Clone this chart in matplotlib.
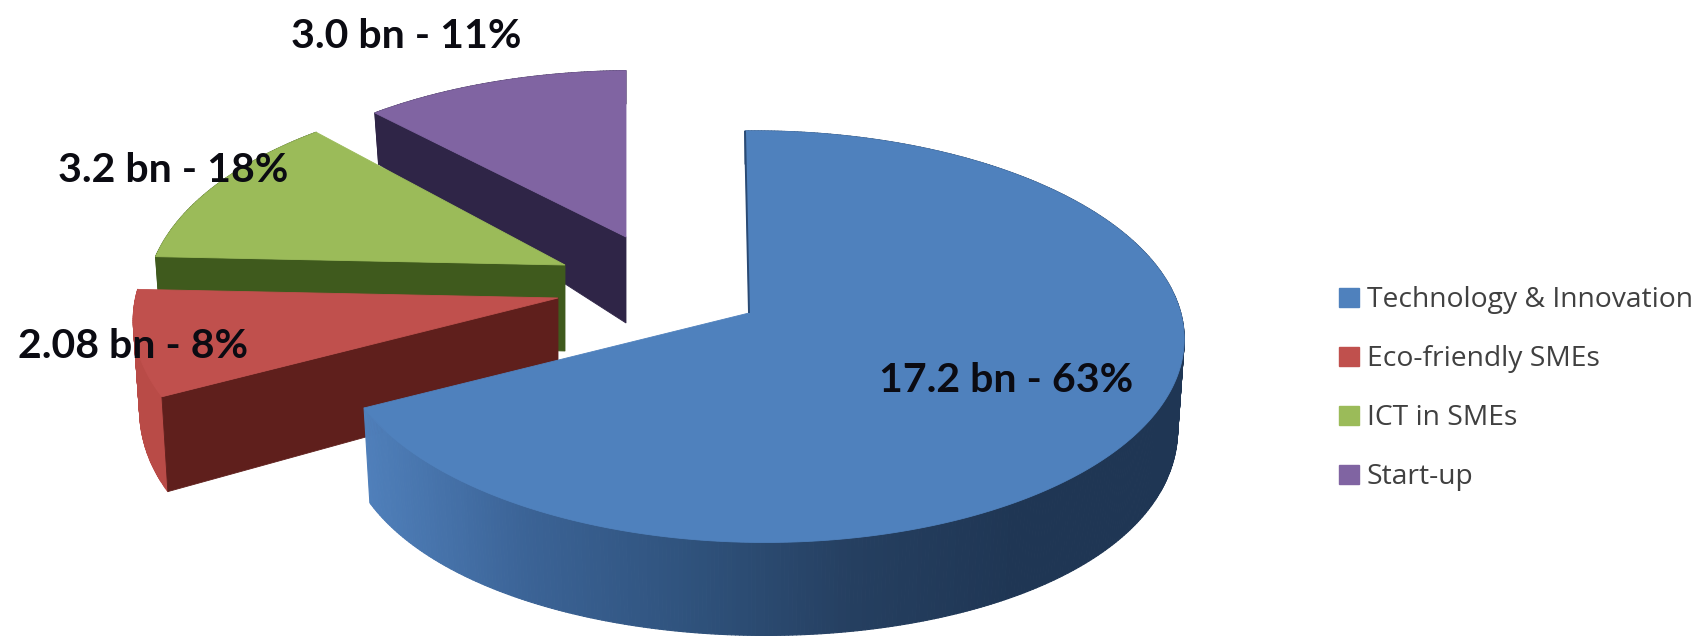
import numpy as np
import matplotlib
matplotlib.use('Agg')
import matplotlib.pyplot as plt
from matplotlib.collections import PolyCollection
from matplotlib.colors import LinearSegmentedColormap
from matplotlib.patches import Patch, Polygon

categories = ['Technology & Innovation', 'Eco-friendly SMEs', 'ICT in SMEs', 'Start-up']
amounts = [17.2, 2.08, 3.2, 3.0]
shares = [63, 8, 18, 11]

top_colors = ['#4f81bd', '#c0504d', '#9bbb59', '#8064a2']
cut_colors = ['#2a4a74', '#5f1f1c', '#3f5a1d', '#2f2547']
side_colors = [['#4f7fba', '#3b6396', '#2f527c', '#253f60', '#1f3654', '#1f3654'],
               ['#b94b47', '#b94b47'],
               ['#3f5a1d', '#3f5a1d'],
               ['#2f2547', '#2f2547']]

# exploded layout: apex of each slice and its projected radii, in pixels
apex = [(749, 313), (558, 298), (565, 265), (626, 237)]
radius_x = [421, 433, 423, 408]
radius_y = [203, 212, 206, 184]
tilt = [0.115, 0.106, 0.175, 0.106]
shear = [-4, 0, 0, 0]
label_pos = [(1006, 381), (133, 346), (173, 171), (406, 37)]

SKEW = -0.025


def project(idx, angles):
    # unit circle to the tilted disc, far edge comes out smaller
    x = np.cos(np.radians(angles))
    y = np.sin(np.radians(angles))
    w = 1 + tilt[idx] * y + SKEW * x
    dx = radius_x[idx] * x / w + shear[idx] * y
    dy = -radius_y[idx] * y / w
    thick = 86 - 29.9 * y - 22.9 * y ** 2
    cx, cy = apex[idx]
    return cx + dx, cy + dy, cx + 0.985 * dx, cy + dy + thick


fig = plt.figure(figsize=(16.98, 6.36), dpi=100)
ax = fig.add_axes([0, 0, 1, 1])
ax.set_xlim(0, 1698)
ax.set_ylim(636, 0)
ax.axis('off')

# clockwise from twelve o'clock
sweeps = 360 * np.array(amounts) / np.sum(amounts)
starts = 90 - np.concatenate(([0], np.cumsum(sweeps)[:-1]))

# back slices first so the front ones cover them
for i in [3, 2, 1, 0]:
    angles = np.linspace(starts[i], starts[i] - sweeps[i], int(sweeps[i] * 2) + 2)
    tx, ty, bx, by = project(i, angles)
    cx, cy = apex[i]

    # outer wall as thin quads, shaded by horizontal position
    cmap = LinearSegmentedColormap.from_list('wall%d' % i, side_colors[i])
    quads = []
    for k in range(len(angles) - 1):
        quads.append([(tx[k], ty[k]), (tx[k + 1], ty[k + 1]), (bx[k + 1], by[k + 1]), (bx[k], by[k])])
    pos = (tx[:-1] - tx.min()) / (tx.max() - tx.min())
    ax.add_collection(PolyCollection(quads, facecolors=cmap(pos), edgecolors='face', linewidths=0.8))

    # cut face along the leading edge, hidden on the big slice
    if i > 0:
        depth = 86
        face = [(cx, cy), (tx[0], ty[0]), (bx[0], by[0]), (cx, cy + depth)]
        ax.add_patch(Polygon(face, closed=True, fc=cut_colors[i], ec=cut_colors[i], lw=0.6))

    outline = [(cx, cy)] + list(zip(tx, ty))
    ax.add_patch(Polygon(outline, closed=True, fc=top_colors[i], ec=top_colors[i], lw=0.6))

# thin dark rim on the upright cut of the big slice
tx, ty, bx, by = project(0, np.array([starts[0]]))
ax.plot([apex[0][0], tx[0]], [apex[0][1], ty[0]], color=cut_colors[0], lw=1.4, solid_capstyle='butt')

for a, s, (lx, ly) in zip(amounts, shares, label_pos):
    ax.text(lx, ly, f'{a} bn - {s}%', ha='center', va='center', family='Lato',
            weight='bold', fontsize=29.5, color='#0b0b12')

handles = [Patch(fc=c, ec=c) for c in top_colors]
ax.legend(handles, categories, loc='upper left', bbox_to_anchor=(1339, 286),
          bbox_transform=ax.transData, frameon=False, prop={'family': 'Open Sans', 'size': 20.3},
          labelcolor='#404040', labelspacing=1.1, handlelength=0.72, handleheight=0.65,
          handletextpad=0.27, borderpad=0, borderaxespad=0)

fig.savefig('out.png', dpi=100, facecolor='white')
